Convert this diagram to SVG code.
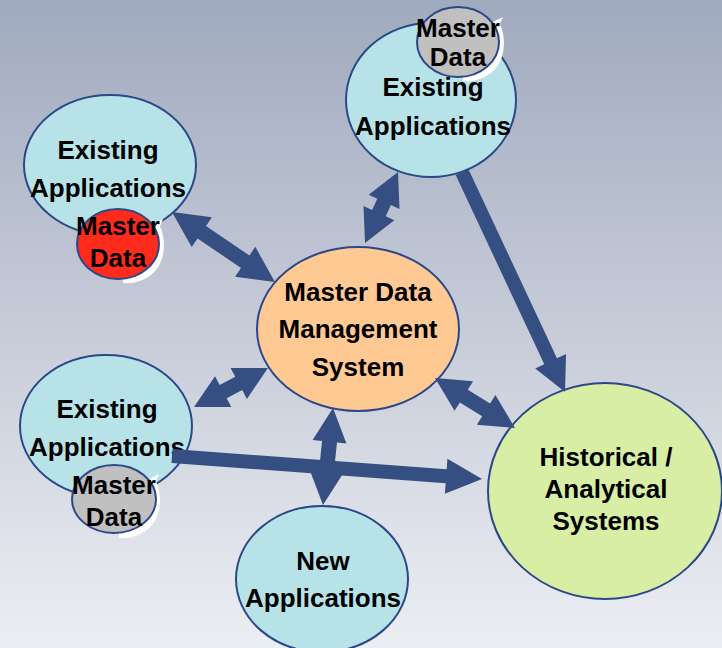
<svg xmlns="http://www.w3.org/2000/svg" width="722" height="648" viewBox="0 0 722 648">
<defs>
<linearGradient id="bg" x1="0" y1="0" x2="0" y2="1">
<stop offset="0" stop-color="#a0aabe"/>
<stop offset="0.5" stop-color="#c6cbd8"/>
<stop offset="1" stop-color="#eceef3"/>
</linearGradient>
<style>
.app{fill:#b7e3e8;stroke:#2c4888;stroke-width:2}
.mdm{fill:#ffc993;stroke:#2c4888;stroke-width:2}
.hist{fill:#d9eea5;stroke:#2c4888;stroke-width:2}
.md{stroke:#2c4888;stroke-width:2}
.curl{fill:#ffffff}
.arr{fill:#354f82}
text{font-family:"Liberation Sans",Arial,sans-serif;font-weight:bold;font-size:26px;fill:#000;text-anchor:middle}
</style>
<path id="curl" d="M 32,-22 L 42,-27 L 39,-20 C 46,-4 44,18 30,29 C 22,35 12,38 2,37 L 0,0 Z"/>
</defs>
<rect x="0" y="0" width="722" height="648" fill="url(#bg)"/>

<g id="app-top-right">
<ellipse class="app" cx="431" cy="100" rx="85" ry="77"/>
<text x="433" y="96">Existing</text>
<text x="433" y="135">Applications</text>
<g transform="translate(458,42)">
<use href="#curl" class="curl" transform="translate(3,2)"/>
<ellipse class="md" cx="0" cy="0" rx="41" ry="35" fill="#c0c0c0"/>
</g>
<text x="458" y="37">Master</text>
<text x="458" y="66">Data</text>
</g>

<g id="app-top-left">
<ellipse class="app" cx="110" cy="165" rx="86" ry="70"/>
<text x="108" y="159">Existing</text>
<text x="108" y="197">Applications</text>
<g transform="translate(118,244)">
<use href="#curl" class="curl" transform="translate(3,2)"/>
<ellipse class="md" cx="0" cy="0" rx="41" ry="35" fill="#ff2b1c"/>
</g>
<text x="118" y="235">Master</text>
<text x="118" y="267">Data</text>
</g>

<g id="app-left">
<ellipse class="app" cx="106" cy="426" rx="86" ry="71"/>
<text x="107" y="418">Existing</text>
<text x="107" y="456">Applications</text>
<g transform="translate(114,499)">
<use href="#curl" class="curl" transform="translate(3,2)"/>
<ellipse class="md" cx="0" cy="0" rx="42" ry="34" fill="#c0c0c0"/>
</g>
<text x="114" y="494">Master</text>
<text x="114" y="526">Data</text>
</g>

<g id="mdm">
<ellipse class="mdm" cx="358" cy="329" rx="101" ry="82"/>
<text x="358" y="301">Master Data</text>
<text x="358" y="338">Management</text>
<text x="358" y="376">System</text>
</g>

<g id="new-apps">
<ellipse class="app" cx="322" cy="579" rx="86" ry="73"/>
<text x="323" y="570">New</text>
<text x="323" y="607">Applications</text>
</g>

<g id="historical">
<ellipse class="hist" cx="605" cy="491" rx="117" ry="108"/>
<text x="606" y="466">Historical /</text>
<text x="606" y="498">Analytical</text>
<text x="606" y="530">Systems</text>
</g>

<g id="connectors">
<polygon class="arr" transform="translate(172,212) rotate(34.2)" points="0,0 36,-18 36,-7.5 88.5,-7.5 88.5,-18 124.5,0 88.5,18 88.5,7.5 36,7.5 36,18"/>
<polygon class="arr" transform="translate(398,172) rotate(114.9)" points="0,0 33,-17 33,-7.5 45.3,-7.5 45.3,-17 78.3,0 45.3,17 45.3,7.5 33,7.5 33,17"/>
<polygon class="arr" transform="translate(194,407) rotate(-27.8)" points="0,0 33,-17.5 33,-7.5 50.6,-7.5 50.6,-17.5 83.6,0 50.6,17.5 50.6,7.5 33,7.5 33,17.5"/>
<polygon class="arr" transform="translate(435,378) rotate(32)" points="0,0 34,-17.5 34,-7.5 60.3,-7.5 60.3,-17.5 94.3,0 60.3,17.5 60.3,7.5 34,7.5 34,17.5"/>
<polygon class="arr" transform="translate(333,408) rotate(95.9)" points="0,0 34,-17 34,-7.5 63.5,-7.5 63.5,-17 97.5,0 63.5,17 63.5,7.5 34,7.5 34,17"/>
<polygon class="arr" transform="translate(172,456) rotate(4.24)" points="0,-7 274.9,-7 274.9,-17.5 310.9,0 274.9,17.5 274.9,7 0,7"/>
<polygon class="arr" transform="translate(462,172) rotate(64.9)" points="0,-7 208.9,-7 208.9,-17 242.9,0 208.9,17 208.9,7 0,7"/>
</g>
</svg>
